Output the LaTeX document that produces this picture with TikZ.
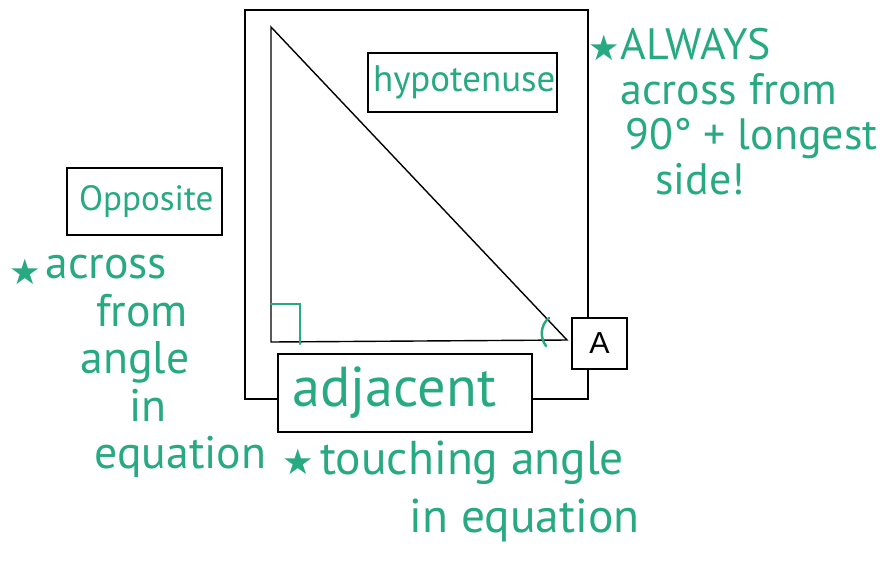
\documentclass[tikz,border=0pt]{standalone}
\usepackage{fontspec}
\usetikzlibrary{positioning}
\newfontfamily\handfont{PT Sans}
\newfontfamily\starfont{DejaVu Sans}
\setsansfont{Liberation Sans}
\definecolor{markgreen}{HTML}{27A982}
\tikzset{labelbox/.style={draw,fill=white,line width=.8pt,inner sep=0pt},handtext/.style={text=markgreen,font=\handfont\fontsize{25}{25.5}\selectfont,inner sep=0pt,align=left},starmark/.style={text=markgreen,font=\starfont\fontsize{20}{20}\selectfont,inner sep=0pt},every picture/.style={line cap=round}}

\begin{document}
\begin{tikzpicture}[x=0.02cm,y=-0.02cm,side/.style={line width=.8pt},tick/.style={markgreen,line width=1.4pt}]
\useasboundingbox (0,0) rectangle (891,565);
\draw[side] (245,10) rectangle (588,399);
% triangle
\coordinate (peak) at (271,27);
\coordinate (corner) at (271,342);
\coordinate (anglev) at (567,340);
\draw[side] (peak)--(corner)--(anglev)--cycle;
\draw[tick] (271,304) -| (300,344);
\draw[tick] (549,318) .. controls (540,325) and (540,338) .. (546,346);
% labels
\node[labelbox,minimum width=3.78cm,minimum height=1.18cm] (hyp) at (462.5,82.5) {};
\node[handtext,font=\handfont\fontsize{21}{25}\selectfont] at ([xshift=1pt]hyp.center) {hypotenuse};
\node[labelbox,minimum width=5.08cm,minimum height=1.56cm] (adj) at (405,393) {};
\node[handtext,font=\handfont\fontsize{32}{34}\selectfont] at ([xshift=-6pt]adj.center) {adjacent};
\node[labelbox,minimum width=3.1cm,minimum height=1.34cm] (opp) at (144.5,201.5) {};
\node[handtext,font=\handfont\fontsize{20}{24}\selectfont] at ([xshift=1pt]opp.center) {Opposite};
\node[labelbox,minimum width=1.1cm,minimum height=1.02cm,font=\sffamily\LARGE] (angA) at (599.5,343.5) {A};
% notes
\node[starmark] (hypstar) at (604,48) {★};
\node[handtext,anchor=north west] (hypnote) at (620,28) {ALWAYS\\across from\\\hspace*{3pt}90° + longest\\\hspace*{20pt}side!};
\node[starmark] (oppstar) at (25,272) {★};
\node[handtext,anchor=north west,font=\handfont\fontsize{26}{27}\selectfont] (oppnote) at (45,255) {across\\\hspace*{29pt}from\\\hspace*{20pt}angle\\\hspace*{48pt}in\\\hspace*{28pt}equation};
\node[starmark] (adjstar) at (298,462) {★};
\node[handtext,anchor=north west,font=\handfont\fontsize{27}{33}\selectfont] (adjnote) at (320,441) {touching angle\\\hspace*{51pt}in equation};
\end{tikzpicture}
\end{document}
